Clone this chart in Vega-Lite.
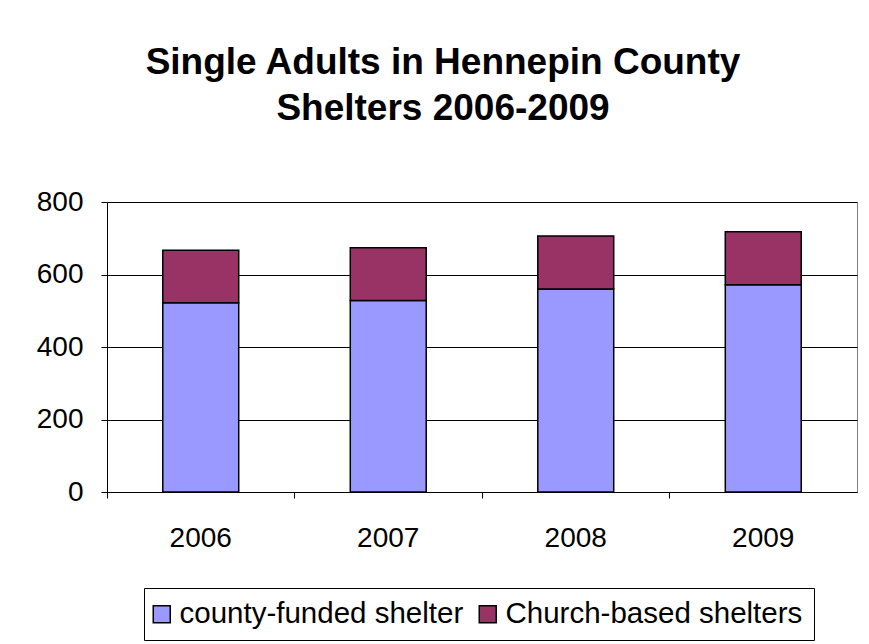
{
  "$schema": "https://vega.github.io/schema/vega-lite/v6.json",
  "width": 750,
  "height": 290,
  "autosize": {"type": "none"},
  "padding": {"left": 107, "top": 202, "right": 12, "bottom": 152},
  "background": "white",
  "title": {
    "text": ["Single Adults in Hennepin County", "Shelters 2006-2009"],
    "font": "Liberation Sans",
    "fontSize": 37,
    "fontWeight": "bold",
    "color": "black",
    "anchor": "middle",
    "dx": -39,
    "offset": 60,
    "lineHeight": 46
  },
  "data": {
    "values": [
      {"year": "2006", "type": "county-funded shelter", "count": 522},
      {"year": "2006", "type": "Church-based shelters", "count": 145},
      {"year": "2007", "type": "county-funded shelter", "count": 528},
      {"year": "2007", "type": "Church-based shelters", "count": 146},
      {"year": "2008", "type": "county-funded shelter", "count": 560},
      {"year": "2008", "type": "Church-based shelters", "count": 146},
      {"year": "2009", "type": "county-funded shelter", "count": 572},
      {"year": "2009", "type": "Church-based shelters", "count": 146}
    ]
  },
  "mark": {"type": "bar", "stroke": "black", "strokeWidth": 1.5},
  "encoding": {
    "x": {
      "field": "year",
      "type": "nominal",
      "scale": {"paddingInner": 0.595, "paddingOuter": 0.2975},
      "axis": {
        "title": null,
        "labelAngle": 0,
        "labelFont": "Liberation Sans",
        "labelFontSize": 28,
        "labelColor": "black",
        "labelPadding": 26,
        "domainColor": "black",
        "tickColor": "black",
        "tickSize": 6,
        "bandPosition": -0.7336
      }
    },
    "y": {
      "field": "count",
      "type": "quantitative",
      "stack": "zero",
      "scale": {"domain": [0, 800]},
      "axis": {
        "title": null,
        "values": [0, 200, 400, 600, 800],
        "labelFont": "Liberation Sans",
        "labelFontSize": 28,
        "labelColor": "black",
        "labelPadding": 18,
        "domainColor": "black",
        "tickColor": "black",
        "tickSize": 6,
        "gridColor": "black",
        "gridOpacity": 1
      }
    },
    "color": {
      "field": "type",
      "type": "nominal",
      "sort": ["county-funded shelter", "Church-based shelters"],
      "scale": {
        "domain": ["county-funded shelter", "Church-based shelters"],
        "range": ["#9999FF", "#993366"]
      },
      "legend": {
        "title": null,
        "orient": "none",
        "legendX": 37,
        "legendY": 386,
        "direction": "horizontal",
        "symbolType": "square",
        "symbolSize": 289,
        "symbolOffset": -8,
        "symbolStrokeColor": "black",
        "symbolStrokeWidth": 1.5,
        "symbolOpacity": 1,
        "labelFont": "Liberation Sans",
        "labelFontSize": 29.5,
        "labelLimit": 400,
        "labelColor": "black",
        "labelOffset": 3,
        "columnPadding": 12,
        "strokeColor": "black",
        "padding": 11,
        "fillColor": "white"
      }
    },
    "order": {"field": "type", "sort": "descending"}
  },
  "config": {
    "view": {"stroke": "#808080", "strokeWidth": 1}
  }
}
